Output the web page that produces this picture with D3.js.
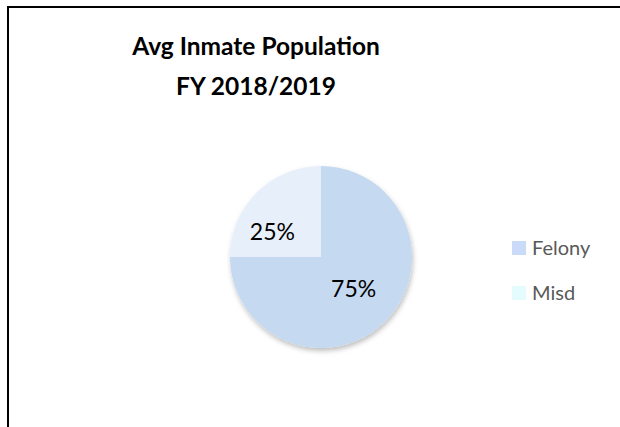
<!DOCTYPE html>
<html><head><meta charset="utf-8">
<script src="https://cdn.jsdelivr.net/npm/d3@7"></script>
<style>html,body{margin:0;padding:0;background:#fff;}svg{display:block;}</style>
</head><body>
<script>
const categories = ["Felony", "Misd"];
const values = [75, 25];
const labels = ["75%", "25%"];
const titleLines = ["Avg Inmate Population", "FY 2018/2019"];
const sliceColors = ["#c5d9f1", "#e7effa"];
const legendColors = ["#c9dbf8", "#e5fcfe"];
// label nudges relative to the slice centroid (Excel best-fit placement)
const labelNudge = [[-6, -7], [-10, 14]];

const W = 620, H = 427;
const svg = d3.select("body").append("svg").attr("width", W).attr("height", H);
const font = "Lato, 'Open Sans', sans-serif";

svg.append("rect").attr("x", 8).attr("y", 7).attr("width", W).attr("height", H)
  .attr("fill", "#fff").attr("stroke", "#000").attr("stroke-width", 2);

svg.append("g").selectAll("text").data(titleLines).join("text")
  .attr("x", 256).attr("y", (d, i) => 55 + i * 40)
  .attr("text-anchor", "middle").attr("font-family", font)
  .attr("font-weight", "bold").attr("font-size", 24.5).attr("fill", "#000")
  .text(d => d);

const defs = svg.append("defs");
const f = defs.append("filter").attr("id", "sh").attr("x", "-20%").attr("y", "-20%").attr("width", "140%").attr("height", "140%");
f.append("feDropShadow").attr("dx", 1).attr("dy", 3).attr("stdDeviation", 2.5)
  .attr("flood-color", "#000").attr("flood-opacity", 0.25);

const cx = 321, cy = 257, r = 91;
const pie = d3.pie().sort(null).value(d => d)(values);
const arc = d3.arc().innerRadius(0).outerRadius(r);
const g = svg.append("g").attr("transform", `translate(${cx},${cy})`);
g.append("g").attr("filter", "url(#sh)").selectAll("path").data(pie).join("path")
  .attr("d", arc).attr("fill", (d, i) => sliceColors[i]);

const lblArc = d3.arc().innerRadius(r * 0.6).outerRadius(r * 0.6);
g.selectAll("text.lbl").data(pie).join("text").attr("class", "lbl")
  .attr("transform", (d, i) => { const c = lblArc.centroid(d); return `translate(${c[0] + labelNudge[i][0]},${c[1] + labelNudge[i][1]})`; })
  .attr("text-anchor", "middle").attr("dy", "0.35em")
  .attr("font-family", font).attr("font-size", 23).attr("fill", "#000")
  .text((d, i) => labels[i]);

const lg = svg.append("g").selectAll("g").data(categories).join("g")
  .attr("transform", (d, i) => `translate(512,${241 + i * 45})`);
lg.append("rect").attr("width", 14).attr("height", 14).attr("fill", (d, i) => legendColors[i]);
lg.append("text").attr("x", 20).attr("y", 14).attr("font-family", font)
  .attr("font-size", 20).attr("fill", "#595959").text(d => d);
</script>
</body></html>
